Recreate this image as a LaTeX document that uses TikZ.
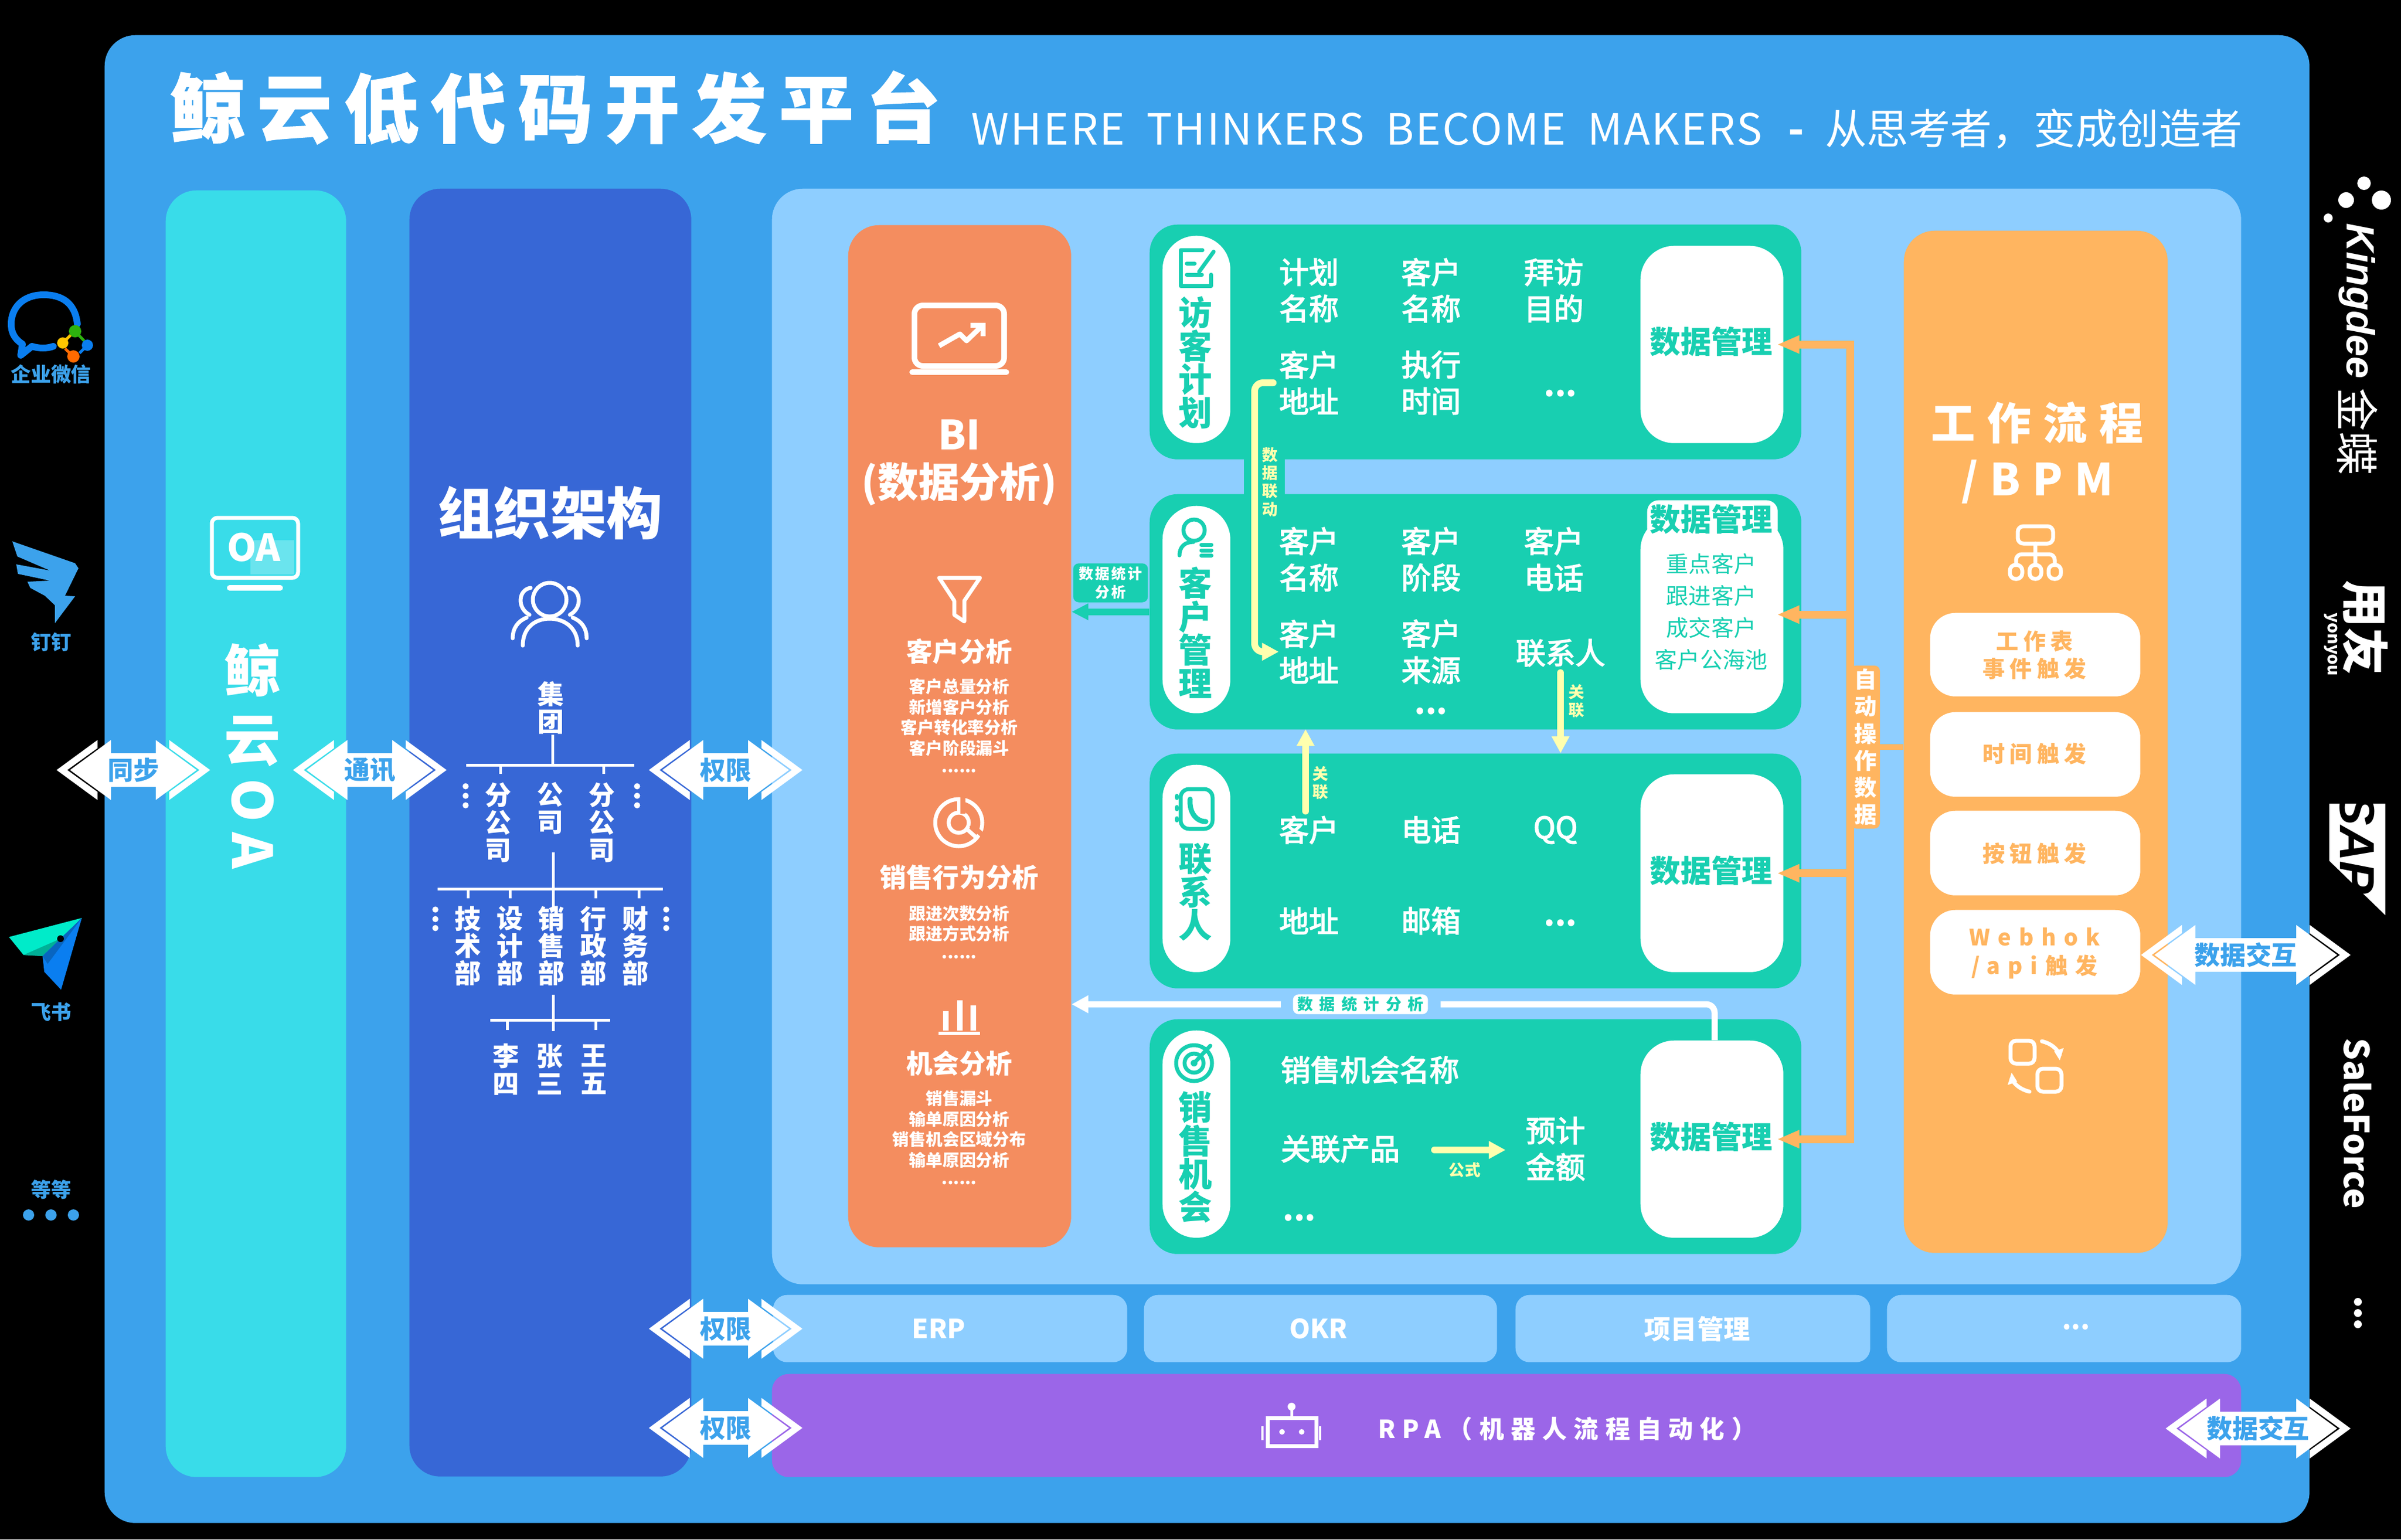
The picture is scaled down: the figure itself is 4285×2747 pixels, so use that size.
\documentclass[tikz,border=0pt]{standalone}
\usepackage{fontspec}
\setmainfont{Noto Sans CJK SC}
\newfontfamily\medfont{Noto Sans CJK SC}[FakeBold=3]
\newfontfamily\logofont{Liberation Sans}
\usetikzlibrary{arrows.meta}

\definecolor{panelblue}{HTML}{3CA2EC}
\definecolor{oacyan}{HTML}{39DCE9}
\definecolor{orgblue}{HTML}{3767D6}
\definecolor{lightblue}{HTML}{8ECEFF}
\definecolor{bicoral}{HTML}{F48D5F}
\definecolor{mint}{HTML}{18CFB1}
\definecolor{bpmorange}{HTML}{FFB560}
\definecolor{rpaviolet}{HTML}{9B66E8}
\definecolor{linkyellow}{HTML}{FFFFAE}
\definecolor{logoblue}{HTML}{0A7EF0}
\definecolor{logogreen}{HTML}{2DB30E}
\definecolor{logoyellow}{HTML}{FFC400}
\definecolor{logoorange}{HTML}{FF6A00}
\definecolor{logoteal}{HTML}{00EBC9}

\tikzset{
	panel/.style={anchor=north west,inner sep=0,rounded corners=5.5mm},
	modulebox/.style={panel,fill=mint,rounded corners=5mm},
	pill/.style={panel,fill=white,minimum width=12.1mm,rounded corners=6mm},
	databox/.style={panel,fill=white,minimum width=25.5mm,rounded corners=6mm},
	barbox/.style={panel,fill=lightblue,rounded corners=2.5mm},
	trigger/.style={panel,fill=white,minimum width=37.5mm,rounded corners=4.5mm},
	txt/.style={inner sep=0,align=center,text=white},
	cell/.style={txt,font=\medfont\fontsize{15.1}{18.5}\selectfont},
	celldots/.style={txt,font=\bfseries\fontsize{16}{18}\selectfont},
	vtitle/.style={txt,text=mint,font=\bfseries\fontsize{17}{16.9}\selectfont},
	mgmt/.style={txt,text=mint,font=\bfseries\fontsize{15.6}{18}\selectfont},
	stage/.style={txt,text=mint,font=\fontsize{11.4}{16.2}\selectfont},
	bihead/.style={txt,font=\bfseries\fontsize{13.4}{16}\selectfont},
	bilist/.style={txt,font=\bfseries\fontsize{8.5}{10.4}\selectfont},
	orgtext/.style={txt,font=\bfseries\fontsize{13.4}{13.9}\selectfont},
	side/.style={txt,text=panelblue,font=\bfseries\fontsize{10.2}{12}\selectfont},
	vendor/.style={txt,rotate=-90,font=\bfseries\fontsize{17.5}{17.5}\selectfont},
	tag/.style={txt,text=linkyellow,font=\bfseries\fontsize{8}{9.2}\selectfont},
	barlabel/.style={txt,font=\bfseries\fontsize{13.4}{16}\selectfont},
	trigtext/.style={txt,text=bpmorange,font=\bfseries\fontsize{11.4}{14}\selectfont\addfontfeature{LetterSpace=20}},
	swaptext/.style={txt,text=panelblue,font=\bfseries\fontsize{13}{14}\selectfont},
	treeline/.style={white,line width=0.5mm},
	iconline/.style={white,line width=0.7mm,line cap=round,line join=round},
	mintline/.style={mint,line width=0.7mm,line cap=round,line join=round},
	busline/.style={bpmorange,line width=1.4mm},
	bustip/.style={-{Triangle[length=4mm,width=3mm]}},
	linkline/.style={linkyellow,line width=1.2mm,line cap=round},
	linktip/.style={-{Triangle[length=3mm,width=3mm]}}
}

% double arrow with an outer chevron: name, x, y, half width, text
\newcommand{\swapmark}[5]{
	\begin{scope}[shift={(#2,#3)}]
		\fill[white] ({-(#4-24)},0) -- ({-(#4-97)},-53.5) -- ({-(#4-97)},-30) -- ({#4-97},-30) -- ({#4-97},-53.5) -- ({#4-24},0)
			-- ({#4-97},53.5) -- ({#4-97},30) -- ({-(#4-97)},30) -- ({-(#4-97)},53.5) -- cycle;
		\fill[white] ({-(#4-73)},-53.5) -- ({-#4},0) -- ({-(#4-73)},53.5) -- ({-(#4-73)},39) -- ({-(#4-19)},0) -- ({-(#4-73)},-39) -- cycle;
		\fill[white] ({#4-73},-53.5) -- ({#4},0) -- ({#4-73},53.5) -- ({#4-73},39) -- ({#4-19},0) -- ({#4-73},-39) -- cycle;
		\node[swaptext] (#1) at (0,0) {#5};
	\end{scope}
}

\begin{document}
\begin{tikzpicture}[x=0.1mm,y=-0.1mm]
	\useasboundingbox (0,0) rectangle (4285,2747);
	\fill[black] (0,0) rectangle (4285,2747);

	% panels
	\node[panel,fill=panelblue,minimum width=393.5mm,minimum height=265.5mm] (platform) at (186,62) {};
	\node[panel,fill=oacyan,minimum width=32.2mm,minimum height=229.6mm] (oa) at (295,339) {};
	\node[panel,fill=orgblue,minimum width=50.3mm,minimum height=229.8mm] (org) at (730,336) {};
	\node[panel,fill=lightblue,minimum width=262.2mm,minimum height=195.5mm] (apps) at (1377,336) {};
	\node[panel,fill=bicoral,minimum width=39.8mm,minimum height=182.4mm] (bi) at (1513,401) {};
	\node[panel,fill=bpmorange,minimum width=47.1mm,minimum height=182.4mm] (bpm) at (3397,411) {};

	\node[barbox,minimum width=63.2mm,minimum height=12mm] (erp) at (1379,2310) {};
	\node[barbox,minimum width=63mm,minimum height=12mm] (okr) at (2041,2310) {};
	\node[barbox,minimum width=63.3mm,minimum height=12mm] (pm) at (2704,2310) {};
	\node[barbox,minimum width=63.2mm,minimum height=12mm] (more) at (3367,2310) {};
	\node[panel,fill=rpaviolet,rounded corners=3mm,minimum width=262.2mm,minimum height=18.4mm] (rpa) at (1377,2451) {};

	% title
	\node[txt,anchor=west,font=\bfseries\fontsize{38}{38}\selectfont\addfontfeature{LetterSpace=16.2,FakeBold=1}] (title) at (303,192) {鲸云低代码开发平台};
	\node[txt,anchor=west,font=\fontsize{21.8}{24}\selectfont\addfontfeature{LetterSpace=4}] (motto) at (1733,230) {WHERE\hspace{0.5em}THINKERS\hspace{0.5em}BECOME\hspace{0.5em}MAKERS};
	\node[txt,anchor=east,font=\fontsize{21.2}{24}\selectfont] (mottocn) at (4003,230) {\textbf{-}\hspace{0.5em}从思考者，变成创造者};

	% oa column
	\draw[iconline,rounded corners=1mm] (378,924) rectangle (532,1031);
	\fill[white,opacity=0.25] (447,964) rectangle (525,1025);
	\node[txt,font=\bfseries\fontsize{19}{19}\selectfont] (oamark) at (453,977) {OA};
	\draw[white,line width=1mm,line cap=round] (410,1049) -- (500,1049);
	\node[txt,font=\bfseries\fontsize{28.5}{35}\selectfont] (oaname) at (451,1258) {鲸\\云};
	\node[txt,rotate=-90,font=\bfseries\fontsize{28}{28}\selectfont\addfontfeature{LetterSpace=20}] (oaletters) at (451,1470) {OA};

	% organisation column
	\node[txt,font=\bfseries\fontsize{28.5}{28}\selectfont] (orgname) at (982,915) {组织架构};
	\draw[iconline] (981,1070) circle[radius=30];
	\draw[iconline] (933,1152) .. controls (933,1120) and (955,1104) .. (981,1104) .. controls (1007,1104) and (1031,1120) .. (1031,1152);
	\draw[iconline] (947,1049) .. controls (925,1052) and (922,1085) .. (945,1097);
	\draw[iconline] (1015,1049) .. controls (1037,1052) and (1040,1085) .. (1017,1097);
	\draw[iconline] (915,1139) .. controls (915,1120) and (925,1108) .. (940,1102);
	\draw[iconline] (1047,1139) .. controls (1047,1120) and (1037,1108) .. (1022,1102);

	\node[orgtext] (group) at (983,1263) {集\\团};
	\coordinate (bara) at (832,1365);
	\coordinate (barb) at (1132,1365);
	\node[orgtext] (branchl) at (889,1468) {分\\公\\司};
	\node[orgtext] (company) at (982,1442) {公\\司};
	\node[orgtext] (branchr) at (1074,1468) {分\\公\\司};
	\draw[treeline] (group.south -| company) ++(4,0) -- ++(0,55);
	\draw[treeline] (bara) -- (barb);
	\draw[treeline] (bara -| branchl) ++(4,0) -- ++(0,16);
	\draw[treeline] (bara -| branchr) ++(3,0) -- ++(0,16);
	\fill[white] (831,1403) circle[radius=5.5] (831,1420) circle[radius=5.5] (831,1437) circle[radius=5.5];
	\fill[white] (1137,1403) circle[radius=5.5] (1137,1420) circle[radius=5.5] (1137,1437) circle[radius=5.5];

	\coordinate (barc) at (781,1586);
	\coordinate (bard) at (1183,1586);
	\node[orgtext] (tech) at (835,1688) {技\\术\\部};
	\node[orgtext] (design) at (910,1688) {设\\计\\部};
	\node[orgtext] (sales) at (984,1688) {销\\售\\部};
	\node[orgtext] (admin) at (1059,1688) {行\\政\\部};
	\node[orgtext] (finance) at (1134,1688) {财\\务\\部};
	\draw[treeline] (company.south) ++(5,32) -- ++(0,105);
	\draw[treeline] (barc) -- (bard);
	\draw[treeline] (barc -| tech) -- ++(0,17);
	\draw[treeline] (barc -| design) -- ++(0,17);
	\draw[treeline] (barc -| admin) ++(4,0) -- ++(0,17);
	\draw[treeline] (barc -| finance) ++(6,0) -- ++(0,17);
	\fill[white] (777,1623) circle[radius=5.5] (777,1640) circle[radius=5.5] (777,1656) circle[radius=5.5];
	\fill[white] (1189,1623) circle[radius=5.5] (1189,1640) circle[radius=5.5] (1189,1656) circle[radius=5.5];

	\coordinate (bare) at (875,1820);
	\coordinate (barf) at (1089,1820);
	\node[orgtext] (lisi) at (903,1908) {李\\四};
	\node[orgtext] (zhang) at (981,1908) {张\\三};
	\node[orgtext] (wang) at (1060,1908) {王\\五};
	\draw[treeline] (sales.south) ++(3,15) -- ++(0,65);
	\draw[treeline] (bare) -- (barf);
	\draw[treeline] (bare -| lisi) ++(2,0) -- ++(0,18);
	\draw[treeline] (bare -| wang) ++(3,0) -- ++(0,18);

	% bi column
	\draw[white,line width=1mm,rounded corners=1.5mm] (1632,545) rectangle (1792,653);
	\draw[white,line width=1mm,line cap=round] (1628,664) -- (1796,664);
	\draw[white,line width=0.9mm,line join=round] (1676,617) -- (1713,596) -- (1725,608) -- (1752,582);
	\draw[white,line width=0.9mm] (1732,580) -- (1754,580) -- (1754,600);
	\node[txt,font=\bfseries\fontsize{20.5}{20.5}\selectfont] (biname) at (1712,776) {BI};
	\node[txt,font=\bfseries\fontsize{20.7}{20.7}\selectfont] (bitext) at (1712,864) {(数据分析)};

	\draw[iconline] (1676,1031) -- (1749,1031) -- (1721,1072) -- (1721,1109) -- (1703,1097) -- (1703,1072) -- cycle;
	\node[bihead] (custhead) at (1712,1162) {客户分析};
	\node[bilist] (custlist) at (1712,1280) {客户总量分析\\新增客户分析\\客户转化率分析\\客户阶段漏斗};
	\node[bilist] (custdots) at (1712,1376) {......};

	\draw[iconline] (1711,1468) circle[radius=42];
	\draw[iconline] (1711,1468) circle[radius=18];
	\draw[iconline] (1711,1426) -- (1711,1450);
	\draw[iconline] (1725,1479) -- (1743,1495);
	\draw[bicoral,line width=0.9mm] (1718,1418) -- (1718,1452);
	\draw[bicoral,line width=0.9mm] (1733,1472) -- (1758,1494);
	\node[bihead] (behavhead) at (1712,1565) {销售行为分析};
	\node[bilist] (behavlist) at (1712,1648) {跟进次数分析\\跟进方式分析};
	\node[bilist] (behavmore) at (1712,1708) {......};

	\draw[white,line width=1mm] (1688,1804) -- (1688,1839);
	\draw[white,line width=1mm] (1713,1785) -- (1713,1839);
	\draw[white,line width=1mm] (1737,1794) -- (1737,1839);
	\draw[white,line width=0.6mm] (1675,1844) -- (1749,1844);
	\node[bihead] (opphead) at (1712,1897) {机会分析};
	\node[bilist] (opplist) at (1712,2015) {销售漏斗\\输单原因分析\\销售机会区域分布\\输单原因分析};
	\node[bilist] (oppdots) at (1712,2111) {......};

	% visit plan
	\node[modulebox,minimum width=116.3mm,minimum height=41.9mm] (visit) at (2051,400) {};
	\node[pill,minimum height=37mm] (visitpill) at (2074,420) {};
	\node[databox,minimum height=35.2mm] (visitdata) at (2927,438) {};
	\node[vtitle] (visittitle) at (2133,647) {访\\客\\计\\划};
	\draw[mintline] (2161,490) -- (2161,510) -- (2107,510) -- (2107,446) -- (2146,446);
	\draw[mintline] (2118,470) -- (2132,470);
	\draw[mintline] (2118,490) -- (2145,490);
	\draw[mintline] (2140,485) -- (2166,449);
	\node[cell] (visitplan) at (2336,518) {计划\\名称};
	\node[cell] (visitcust) at (2554,518) {客户\\名称};
	\node[cell] (visitgoal) at (2773,518) {拜访\\目的};
	\node[cell] (visitaddr) at (2336,683) {客户\\地址};
	\node[cell] (visittime) at (2554,683) {执行\\时间};
	\node[celldots] (visitmore) at (2785,702) {...};
	\node[mgmt] (visitlabel) at (3054,610) {数据管理};

	% customer
	\node[modulebox,minimum width=116.3mm,minimum height=42mm] (cust) at (2051,881) {};
	\node[pill,minimum height=37mm] (custpill) at (2074,902) {};
	\node[databox,minimum height=35.2mm] (custdata) at (2927,920) {};
	\node[panel,fill=white,rounded corners=2mm,minimum width=23.3mm,minimum height=7mm] (custcap) at (2939,892) {};
	\node[vtitle] (custtitle) at (2133,1129) {客\\户\\管\\理};
	\draw[mintline] (2131,946) circle[radius=19];
	\draw[mintline] (2105,991) .. controls (2105,975) and (2115,967) .. (2130,967);
	\draw[mintline] (2144,972) -- (2162,972);
	\draw[mintline] (2144,982) -- (2162,982);
	\draw[mintline] (2144,991) -- (2162,991);
	\node[cell] (custname) at (2336,998) {客户\\名称};
	\node[cell] (custstage) at (2554,998) {客户\\阶段};
	\node[cell] (custphone) at (2773,998) {客户\\电话};
	\node[cell] (custaddr) at (2336,1163) {客户\\地址};
	\node[cell] (custsource) at (2554,1163) {客户\\来源};
	\node[cell] (custcontact) at (2785,1165) {联系人};
	\node[celldots] (custmore) at (2554,1269) {...};
	\node[mgmt] (custlabel) at (3054,927) {数据管理};
	\node[stage] (custstages) at (3054,1092) {重点客户\\跟进客户\\成交客户\\客户公海池};

	% contact
	\node[modulebox,minimum width=116.3mm,minimum height=41.9mm] (contact) at (2051,1344) {};
	\node[pill,minimum height=37mm] (contactpill) at (2074,1364) {};
	\node[databox,minimum height=35.3mm] (contactdata) at (2927,1381) {};
	\node[vtitle] (contacttitle) at (2133,1592) {联\\系\\人};
	\draw[mintline,rounded corners=1.5mm] (2107,1408) rectangle (2164,1479);
	\draw[mintline] (2100,1420) -- (2100,1424) (2100,1440) -- (2100,1444) (2100,1460) -- (2100,1464);
	\draw[mint,line width=0.9mm,line cap=round] (2124,1426) .. controls (2122,1450) and (2135,1466) .. (2152,1466);
	\node[cell] (contactcust) at (2336,1481) {客户};
	\node[cell] (contactphone) at (2554,1481) {电话};
	\node[cell] (contactqq) at (2776,1481) {QQ};
	\node[cell] (contactaddr) at (2336,1643) {地址};
	\node[cell] (contactmail) at (2554,1643) {邮箱};
	\node[celldots] (contactmore) at (2785,1647) {...};
	\node[mgmt] (contactlabel) at (3054,1554) {数据管理};

	% sales opportunity
	\node[modulebox,minimum width=116.3mm,minimum height=41.9mm] (opp) at (2051,1818) {};
	\node[pill,minimum height=37mm] (opppill) at (2074,1838) {};
	\node[databox,minimum height=35.2mm] (oppdata) at (2927,1856) {};
	\node[vtitle] (opptitle) at (2133,2065) {销\\售\\机\\会};
	\draw[mintline] (2131,1897) circle[radius=32];
	\draw[mintline] (2131,1897) circle[radius=17];
	\fill[mint] (2131,1897) circle[radius=6];
	\draw[mintline] (2131,1897) -- (2160,1866);
	\node[cell,anchor=west] (oppname) at (2285,1909) {销售机会名称};
	\node[cell,anchor=west] (oppprod) at (2285,2050) {关联产品};
	\node[cell] (oppamount) at (2776,2050) {预计\\金额};
	\node[celldots] (oppmore) at (2319,2173) {...};
	\node[mgmt] (opplabel) at (3054,2029) {数据管理};
	\draw[linkline,linktip] (2560,2052) -- (2687,2052);
	\node[tag] (oppformula) at (2614,2088) {公式};

	% link from visit plan to customer
	\coordinate (linkbus) at (2239,900);
	\node[inner sep=0,fill=mint,minimum width=7.3mm,minimum height=7.2mm] (linkbridge) at (2256,850) {};
	\draw[linkline,linktip,rounded corners=1.5mm,shorten <=1mm] (visitaddr.west) -- (visitaddr.west -| linkbus) -- (custaddr.west -| linkbus) -- (custaddr.west);
	\node[tag] (linktag) at (2267,860) {数\\据\\联\\动};

	% related arrows
	\draw[linkline,linktip,shorten <=1mm] (custcontact.south) -- (custcontact.south |- contact.north);
	\node[tag] (reltaga) at (2814,1251) {关\\联};
	\draw[linkline,linktip] (contactcust.north) ++(-6,-8) -- (2330,1301);
	\node[tag] (reltagb) at (2357,1397) {关\\联};

	% statistics arrows to bi
	\draw[mint,line width=1.2mm,-{Triangle[length=3mm,width=2.8mm]}] (cust.west) -- (cust.west -| bi.east);
	\node[txt,fill=mint,rounded corners=1mm,inner xsep=1mm,inner ysep=0.6mm,font=\bfseries\fontsize{7.4}{9.2}\selectfont\addfontfeature{LetterSpace=12}] (custstat) at (1982,1040) {数据统计\\分析};
	\coordinate (statbend) at (3060,1792);
	\draw[white,line width=1.1mm,rounded corners=1.5mm,-{Triangle[length=3mm,width=3mm]}] (oppdata.north -| statbend) -- (statbend) -- (statbend -| bi.east);
	\node[inner sep=0,fill=lightblue,minimum width=28.5mm,minimum height=4mm] (statgap) at (2428,1792) {};
	\node[txt,text=mint,fill=white,rounded corners=1mm,inner xsep=0.8mm,inner ysep=0.4mm,font=\bfseries\fontsize{8}{9}\selectfont\addfontfeature{LetterSpace=40}] (statlabel) at (2428,1792) {数据统计分析};

	% automatic data operations
	\coordinate (bus) at (3302,1333);
	\draw[busline,line cap=rect] (bus |- visitdata.east) -- (bus |- oppdata.east);
	\draw[busline,bustip] (bus |- visitdata.east) -- ([xshift=-1.2mm]visitdata.east);
	\draw[busline,bustip] (bus |- custdata.east) -- ([xshift=-1.2mm]custdata.east);
	\draw[busline,bustip] (bus |- contactdata.east) -- ([xshift=-1.2mm]contactdata.east);
	\draw[busline,bustip] (bus |- oppdata.east) -- ([xshift=-1.2mm]oppdata.east);
	\draw[bpmorange,line width=1mm] (bus) -- (bus -| bpm.west);
	\node[txt,fill=bpmorange,rounded corners=1mm,inner xsep=0.6mm,inner ysep=0.6mm,font=\bfseries\fontsize{11.4}{13.7}\selectfont] (autotag) at (3329,1333) {自\\动\\操\\作\\数\\据};

	% workflow column
	\node[txt,font=\bfseries\fontsize{22.4}{28.5}\selectfont\addfontfeature{LetterSpace=27}] (bpmname) at (3636,808) {工作流程\\/BPM};
	\draw[iconline,rounded corners=1mm] (3601,939) rectangle (3664,970);
	\draw[iconline,rounded corners=1mm] (3587,1008) rectangle (3609,1033);
	\draw[iconline,rounded corners=1mm] (3622,1008) rectangle (3643,1033);
	\draw[iconline,rounded corners=1mm] (3656,1008) rectangle (3678,1033);
	\draw[iconline] (3632,970) -- (3632,1008);
	\draw[iconline,rounded corners=1mm] (3598,1008) -- (3598,989) -- (3667,989) -- (3667,1008);

	\node[trigger,minimum height=14.9mm] (trigsheet) at (3444,1093) {};
	\node[trigger,minimum height=15.1mm] (trigtime) at (3444,1270) {};
	\node[trigger,minimum height=15.1mm] (trigbutton) at (3444,1446) {};
	\node[trigger,minimum height=15.1mm] (trighook) at (3444,1623) {};
	\node[trigtext] (trigsheettext) at (3631,1169) {工作表\\事件触发};
	\node[trigtext] (trigtimetext) at (3631,1345) {时间触发};
	\node[trigtext] (trigbuttontext) at (3631,1523) {按钮触发};
	\node[trigtext,font=\bfseries\fontsize{11.4}{14.5}\selectfont\addfontfeature{LetterSpace=34}] (trighooktext) at (3631,1701) {Webhok\\/api触发};

	\draw[iconline,rounded corners=1mm] (3588,1857) rectangle (3631,1898);
	\draw[iconline,rounded corners=1mm] (3636,1907) rectangle (3679,1948);
	\draw[iconline] (3644,1858) .. controls (3660,1862) and (3670,1870) .. (3676,1882);
	\fill[white] (3666,1876) -- (3683,1870) -- (3676,1892) -- cycle;
	\draw[iconline] (3622,1948) .. controls (3606,1944) and (3596,1936) .. (3590,1925);
	\fill[white] (3600,1930) -- (3583,1936) -- (3590,1914) -- cycle;

	% bottom rows
	\node[barlabel] (erptext) at (1675,2371) {ERP};
	\node[barlabel] (okrtext) at (2353,2371) {OKR};
	\node[barlabel] (pmtext) at (3029,2371) {项目管理};
	\node[barlabel] (moretext) at (3705,2368) {...};

	\draw[white,line width=0.7mm] (2262,2530) rectangle (2349,2580);
	\draw[white,line width=0.5mm] (2305,2512) -- (2305,2530);
	\fill[white] (2305,2510) circle[radius=7];
	\fill[white] (2288,2555) circle[radius=5] (2323,2555) circle[radius=5];
	\draw[white,line width=0.4mm] (2253,2545) -- (2253,2570);
	\draw[white,line width=0.4mm] (2356,2545) -- (2356,2570);
	\node[txt,font=\bfseries\fontsize{12.6}{16}\selectfont\addfontfeature{LetterSpace=27}] (rpatext) at (2797,2550) {RPA（机器人流程自动化）};

	% double arrows
	\swapmark{sync}{238}{1374}{137}{同步}
	\swapmark{notify}{660}{1374}{137}{通讯}
	\swapmark{authmain}{1295}{1374}{137}{权限}
	\swapmark{authbar}{1295}{2371}{137}{权限}
	\swapmark{authrpa}{1295}{2548}{137}{权限}
	\swapmark{exchbpm}{4008}{1704}{187}{数据交互}
	\swapmark{exchrpa}{4030}{2549}{165}{数据交互}

	% left vendors
	\draw[logoblue,line width=1.2mm,line cap=round,line join=round] (138,578) .. controls (134,540) and (110,526) .. (78,526) .. controls (40,526) and (20,550) .. (20,578) .. controls (20,596) and (28,606) .. (40,614) -- (37,634) -- (57,618) .. controls (70,622) and (84,622) .. (95,618);
	\draw[logogreen,line width=0.5mm] (134,591) -- (150,608);
	\fill[logogreen] (134,591) circle[radius=11];
	\draw[logoyellow,line width=0.5mm] (112,612) -- (126,598);
	\fill[logoyellow] (112,612) circle[radius=10];
	\draw[logoorange,line width=0.5mm] (131,636) -- (116,622);
	\fill[logoorange] (131,636) circle[radius=11];
	\draw[logoblue,line width=0.5mm] (156,616) -- (142,630);
	\fill[logoblue] (156,616) circle[radius=10];
	\node[side] (wecom) at (91,668) {企业微信};

	\fill[panelblue] (22,966) -- (134,1005) -- (140,1014) -- (116,1063) -- (134,1064) -- (98,1112) -- (98,1080) -- (80,1063) -- (54,1049) -- (49,1038) -- (89,1036) -- (32,1024) -- (29,1007) -- (89,1018) -- (31,993) -- cycle;
	\node[side] (dingtalk) at (91,1146) {钉钉};

	\fill[logoteal] (16,1672) -- (146,1638) -- (76,1706) -- (42,1704) -- cycle;
	\fill[logoteal!75!black] (42,1704) -- (108,1675) -- (76,1706) -- cycle;
	\fill[logoblue] (146,1638) -- (109,1766) -- (79,1734) -- (76,1706) -- cycle;
	\fill[logoblue!80!black] (146,1638) -- (108,1675) -- (76,1706) -- (85,1720) -- cycle;
	\fill[black] (108,1675) circle[radius=6];
	\node[side] (feishu) at (91,1806) {飞书};

	\node[side] (etc) at (91,2123) {等等};
	\fill[panelblue] (51,2168) circle[radius=10] (91,2168) circle[radius=10] (131,2168) circle[radius=10];

	% right vendors
	\fill[white] (4219,327) circle[radius=12] (4187,357) circle[radius=14] (4250,357) circle[radius=17] (4155,389) circle[radius=8];
	\node[vendor,font=\logofont\bfseries\itshape\fontsize{20}{20}\selectfont] (kingdee) at (4207,537) {Kingdee};
	\node[vendor,font=\fontsize{22}{22}\selectfont] (kingdeecn) at (4207,770) {金蝶};
	\node[vendor,font=\bfseries\fontsize{24}{24}\selectfont] (yonyoucn) at (4221,1120) {用友};
	\node[vendor,font=\bfseries\fontsize{8.5}{8.5}\selectfont] (yonyou) at (4160,1150) {yonyou};
	\fill[white] (4157,1434) -- (4257,1434) -- (4257,1633) -- (4157,1536) -- cycle;
	\node[vendor,text=black,font=\logofont\bfseries\itshape\fontsize{25}{25}\selectfont] (sap) at (4207,1505) {SAP};
	\node[vendor] (salesforce) at (4208,2005) {SaleForce};
	\fill[white] (4208,2323) circle[radius=7] (4208,2343) circle[radius=7] (4208,2363) circle[radius=7];
\end{tikzpicture}
\end{document}
